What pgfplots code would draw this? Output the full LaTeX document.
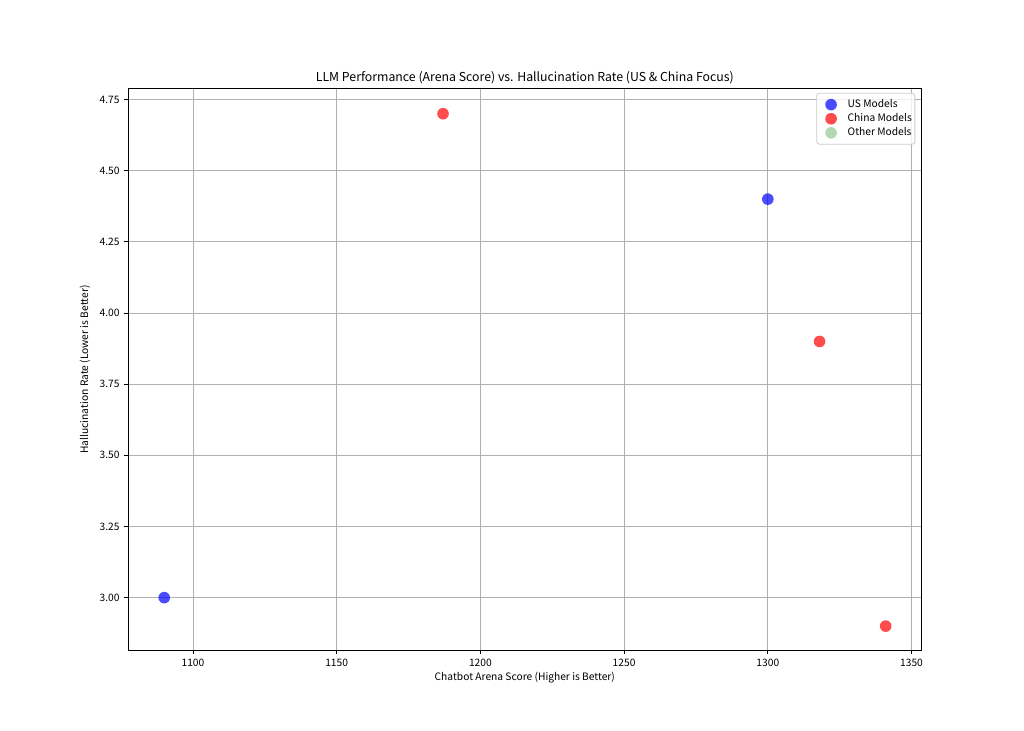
\documentclass[border=0pt]{standalone}
\usepackage{fontspec}
\setmainfont{Noto Sans CJK SC}
\usepackage{pgfplots}
\pgfplotsset{compat=1.18}
\pgfplotsset{dotlegend/.style={legend image code/.code={\path (0,0); \path[##1, draw=none, draw opacity=0] (9.4pt,0) circle (4.2pt);}}}
\begin{document}
\begin{tikzpicture}[x=1in,y=1in]
\useasboundingbox (0,0) rectangle (10.24,7.31);
\begin{axis}[
  at={(1.28in,0.804in)}, anchor=south west,
  scale only axis, width=7.936in, height=5.622in,
  xmin=1077.4, xmax=1353.5, ymin=2.814, ymax=4.789,
  xtick={1100,1150,...,1350},
  ytick={3.00,3.25,3.50,3.75,4.00,4.25,4.50,4.75},
  yticklabel style={/pgf/number format/.cd,fixed,fixed zerofill,precision=2},
  /pgf/number format/assume math mode=true,
  scaled x ticks=false,
  xticklabel style={/pgf/number format/1000 sep={}},
  tick align=outside, tick style={black, line width=0.6pt},
  major tick length=2.6pt,
  tick label style={font=\fontsize{7.4}{9}\selectfont},
  xtick pos=bottom, ytick pos=left,
  axis line style={line width=0.6pt},
  grid=major, grid style={color=black!31, line width=0.6pt},
  title={LLM Performance (Arena Score) vs. Hallucination Rate (US \& China Focus)},
  title style={font=\fontsize{8.9}{11}\selectfont, yshift=-6.5pt},
  xlabel={Chatbot Arena Score (Higher is Better)},
  ylabel={Hallucination Rate (Lower is Better)},
  label style={font=\fontsize{7.4}{9}\selectfont},
  xlabel style={yshift=3pt},
  ylabel style={yshift=0pt},
  legend cell align=left,
  legend style={font=\fontsize{7.4}{9}\selectfont, draw=black!20, line width=0.6pt, rounded corners=2pt, fill=white, fill opacity=0.8, text opacity=1, inner xsep=1pt, inner ysep=2.5pt, row sep=-1.2pt, nodes={inner xsep=1.2pt, inner ysep=2pt}, at={(0.992,0.992)}, anchor=north east},
]
\addplot[mark=*, mark size=4.2pt, mark options={draw opacity=0, fill=blue, fill opacity=0.7}, draw=none, fill=blue, fill opacity=0.7, only marks, dotlegend] coordinates {(1090,3.0) (1300,4.4)};
\addlegendentry{\hspace{6.6pt}US Models}
\addplot[mark=*, mark size=4.2pt, mark options={draw opacity=0, fill=red, fill opacity=0.7}, draw=none, fill=red, fill opacity=0.7, only marks, dotlegend] coordinates {(1187,4.7) (1318,3.9) (1341,2.9)};
\addlegendentry{\hspace{6.6pt}China Models}
\addlegendimage{draw=none, fill={rgb,255:red,0;green,128;blue,0}, fill opacity=0.3, dotlegend}
\addlegendentry{\hspace{6.6pt}Other Models}
\end{axis}
\end{tikzpicture}
\end{document}
